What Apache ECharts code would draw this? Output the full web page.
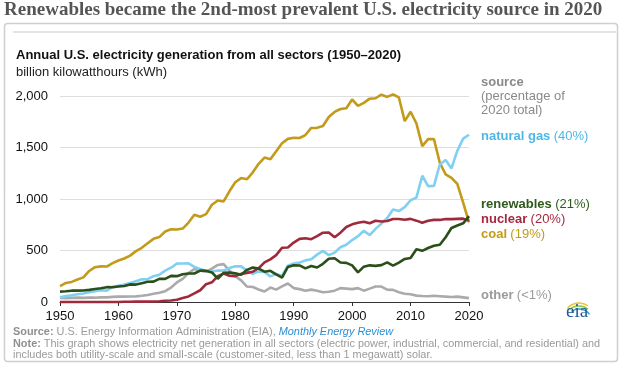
<!DOCTYPE html>
<html>
<head>
<meta charset="utf-8">
<script src="https://cdn.jsdelivr.net/npm/echarts@6/dist/echarts.min.js"></script>
<style>
html,body{margin:0;padding:0;background:#fff;}
#chart{width:624px;height:369px;}
</style>
</head>
<body>
<div id="chart"></div>
<script>
const years = [1950,1951,1952,1953,1954,1955,1956,1957,1958,1959,
  1960,1961,1962,1963,1964,1965,1966,1967,1968,1969,
  1970,1971,1972,1973,1974,1975,1976,1977,1978,1979,
  1980,1981,1982,1983,1984,1985,1986,1987,1988,1989,
  1990,1991,1992,1993,1994,1995,1996,1997,1998,1999,
  2000,2001,2002,2003,2004,2005,2006,2007,2008,2009,
  2010,2011,2012,2013,2014,2015,2016,2017,2018,2019,
  2020];

const coal = [155,185,195,219,239,301,338,346,344,378,
  403,422,450,494,526,571,613,630,685,706,
  704,713,771,848,828,853,944,985,976,1075,
  1162,1203,1192,1259,1342,1402,1386,1464,1541,1584,
  1594,1592,1621,1690,1691,1709,1796,1845,1874,1881,
  1966,1904,1933,1974,1978,2013,1991,2016,1986,1756,
  1847,1733,1514,1581,1582,1352,1239,1206,1146,965,
  774];

const naturalGas = [45,57,65,76,83,95,104,114,110,147,
  158,169,184,202,220,222,251,265,304,333,
  373,374,376,341,320,300,295,306,305,329,
  346,346,305,274,297,292,249,273,253,352,
  373,382,404,415,460,496,455,479,531,556,
  601,639,691,650,710,761,816,897,883,921,
  988,1014,1226,1125,1127,1335,1379,1297,1469,1586,
  1624];

const nuclear = [0,0,0,0,0,0,0,0,0.2,0.2,
  0.5,1.7,2.3,3.2,3.3,3.7,5.5,7.7,12.5,13.9,
  21.8,38.1,54.1,83.5,114,173,191,251,276,255,
  251,273,283,294,328,384,414,455,527,529,
  577,613,619,610,640,673,675,629,673,728,
  754,769,780,764,789,782,787,806,806,799,
  807,790,769,789,797,797,806,805,807,809,
  790];

const renewables = [101,104,110,110,112,118,126,134,144,143,
  150,156,171,169,183,196,198,225,225,254,
  251,270,277,277,305,303,287,226,283,285,
  279,264,312,335,325,294,303,268,237,340,
  357,355,326,350,335,371,420,425,383,380,
  356,288,343,356,351,358,385,353,382,418,
  427,513,497,524,546,556,629,718,743,764,
  834];

const other = [40,38,40,42,40,42,42,45,45,50,
  52,52,53,55,60,68,80,90,105,140,
  190,225,280,320,305,292,325,360,368,305,
  250,210,150,145,122,102,140,120,152,180,
  135,125,110,120,110,95,100,110,135,130,
  125,135,110,130,150,150,120,118,95,80,
  75,62,58,56,60,56,52,48,52,45,
  38];

const seriesNames = ['other','coal','natural gas','nuclear','renewables'];
const seriesShares = ['(<1%)','(19%)','(40%)','(20%)','(21%)'];
const titleText = 'Renewables became the 2nd-most prevalent U.S. electricity source in 2020';
const chartTitle = 'Annual U.S. electricity generation from all sectors (1950\u20132020)';
const unitText = 'billion kilowatthours (kWh)';

const colors = {
  'other': '#aaaaaa',
  'coal': '#c49a1b',
  'natural gas': '#7fd0f2',
  'nuclear': '#9e2a3c',
  'renewables': '#2b4f1a'
};
const labelColors = {
  'other': '#9a9a9a',
  'coal': '#c39b1a',
  'natural gas': '#4db8e8',
  'nuclear': '#a52a40',
  'renewables': '#2e5a1c'
};
const dataMap = {
  'other': other, 'coal': coal, 'natural gas': naturalGas,
  'nuclear': nuclear, 'renewables': renewables
};

function pairs(arr){ return years.map((y,i)=>[y,arr[i]]); }

const SANS = '"Liberation Sans", Arial, Helvetica, sans-serif';

const chart = echarts.init(document.getElementById('chart'), null, {renderer:'canvas'});

const labelY = {'natural gas':138,'renewables':206,'nuclear':221,'coal':236,'other':297};

const graphics = [
  {type:'rect', shape:{x:4.5,y:23.5,width:613,height:338,r:3}, style:{fill:'#fff',stroke:'#cfcfcf',lineWidth:1.5}, z:-10, silent:true},
  {type:'line', shape:{x1:13,y1:32,x2:616,y2:32}, style:{stroke:'#e3e3e3',lineWidth:2}, z:-9, silent:true},
  {type:'text', left:4, top:1, style:{text:titleText, font:'bold 19px "Liberation Serif", "Times New Roman", serif', fill:'#555'}},
  {type:'text', left:16, top:49, style:{text:chartTitle, font:'bold 13px '+SANS, fill:'#111'}},
  {type:'text', left:16, top:66, style:{text:unitText, font:'13px '+SANS, fill:'#222'}},
  {type:'text', left:481, top:75, style:{text:'{b|source}\n{r|(percentage of}\n{r|2020 total)}', lineHeight:14,
    rich:{b:{font:'bold 13px '+SANS, fill:'#8a8a8a', lineHeight:14}, r:{font:'13px '+SANS, fill:'#8a8a8a', lineHeight:14}}}},
  {type:'text', left:13, top:326, style:{
    text:'{b|Source:}{r| U.S. Energy Information Administration (EIA), }{i|Monthly Energy Review}\n{b|Note:}{r| This graph shows electricity net generation in all sectors (electric power, industrial, commercial, and residential) and}\n{r|includes both utility-scale and small-scale (customer-sited, less than 1 megawatt) solar.}',
    lineHeight:11.7,
    rich:{b:{font:'bold 10.9px '+SANS, fill:'#8f8f8f', lineHeight:11.7}, r:{font:'10.9px '+SANS, fill:'#9a9a9a', lineHeight:11.7}, i:{font:'italic 10.9px '+SANS, fill:'#2a8fd4', lineHeight:11.7}}}},
  // eia logo
  {type:'arc', shape:{cx:579,cy:318,r:15,startAngle:-Math.PI*0.78,endAngle:-Math.PI*0.3}, style:{stroke:'#f2c431',lineWidth:1.6,fill:null}},
  {type:'arc', shape:{cx:579,cy:320,r:14,startAngle:-Math.PI*0.74,endAngle:-Math.PI*0.28}, style:{stroke:'#8cc63f',lineWidth:1.6,fill:null}},
  {type:'arc', shape:{cx:579,cy:322,r:13,startAngle:-Math.PI*0.7,endAngle:-Math.PI*0.2}, style:{stroke:'#3aa3dc',lineWidth:1.6,fill:null}},
  {type:'text', left:566, top:303, style:{text:'eia', font:'19px "Liberation Serif", "Times New Roman", serif', fill:'#1f5a92'}}
];
seriesNames.forEach((n,i)=>{
  graphics.push({type:'text', left:481, top:labelY[n]-8, style:{
    text:'{b|'+n+'} {r|'+seriesShares[i]+'}',
    rich:{b:{font:'bold 13px '+SANS, fill:labelColors[n]}, r:{font:'13px '+SANS, fill:labelColors[n]}}}});
});

const option = {
  animation:false,
  backgroundColor:'#fff',
  grid:{left:60, right:155, top:96, bottom:67, containLabel:false},
  xAxis:{
    type:'value', min:1950, max:2020, interval:10,
    axisLine:{show:true, lineStyle:{color:'#333', width:1}},
    axisTick:{show:true, length:4, lineStyle:{color:'#333'}},
    splitLine:{show:false},
    axisLabel:{color:'#111', fontSize:13, fontFamily:SANS, margin:8, formatter:v=>String(v)}
  },
  yAxis:{
    type:'value', min:0, max:2000, interval:500,
    axisLine:{show:false}, axisTick:{show:false},
    splitLine:{show:true, lineStyle:{color:'#dedede', width:1}},
    axisLabel:{color:'#111', fontSize:13, fontFamily:SANS, margin:12,
      formatter:v=>v.toLocaleString('en-US')}
  },
  series: seriesNames.map(n=>({
    name:n, type:'line', data:pairs(dataMap[n]), showSymbol:false, symbol:'none',
    clip:false, smooth:false,
    lineStyle:{color:colors[n], width:2.6},
    itemStyle:{color:colors[n]},
    z: 2
  })),
  graphic: graphics
};
chart.setOption(option);
</script>
</body>
</html>
